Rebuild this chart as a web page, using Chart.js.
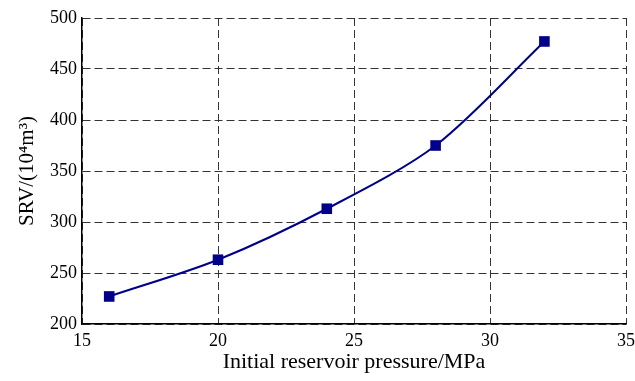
<!DOCTYPE html>
<html>
<head>
<meta charset="utf-8">
<script src="https://cdn.jsdelivr.net/npm/chart.js@4/dist/chart.umd.min.js"></script>
<style>
  html, body { margin: 0; padding: 0; background: #fff; }
  #wrap { width: 635px; height: 381px; }
</style>
</head>
<body>
<div id="wrap"><canvas id="c" width="635" height="381"></canvas></div>
<script>
// Initial reservoir pressure (MPa) and stimulated reservoir volume (10^4 m^3)
const pressure = [16, 20, 24, 28, 32];
const srv = [227, 263, 313, 375, 477];
const xTicks = [15, 20, 25, 30, 35];
const yTicks = [200, 250, 300, 350, 400, 450, 500];

const serif = "'Liberation Serif', 'Times New Roman', serif";
const gridColor = '#333333';

new Chart(document.getElementById('c'), {
  type: 'scatter',
  data: {
    datasets: [{
      data: pressure.map((p, i) => ({ x: p, y: srv[i] })),
      showLine: true,
      borderColor: '#00008b',
      backgroundColor: '#00008b',
      borderWidth: 2,
      tension: 0.3,
      pointStyle: 'rect',
      pointRadius: 7.5,
      pointHoverRadius: 7.5,
      pointBorderWidth: 0
    }]
  },
  options: {
    responsive: false,
    animation: false,
    layout: { padding: { top: 18, right: 9, left: 0, bottom: 0 } },
    plugins: { legend: { display: false }, tooltip: { enabled: false } },
    scales: {
      x: {
        type: 'linear',
        min: 15, max: 35,
        afterBuildTicks: s => { s.ticks = xTicks.map(v => ({ value: v })); },
        afterFit: s => { s.height = 57; s.paddingRight = 0; s.paddingLeft = 0; },
        grid: { color: gridColor, lineWidth: 1, drawTicks: false },
        border: { display: true, color: '#000', width: 1.5, dash: [8, 4] },
        ticks: { color: '#000', font: { family: serif, size: 18 }, padding: 6, maxRotation: 0 },
        title: { display: true, text: 'Initial reservoir pressure/MPa', color: '#000', font: { family: serif, size: 22 }, padding: { top: 0, bottom: 6 } }
      },
      y: {
        type: 'linear',
        min: 200, max: 500,
        afterBuildTicks: s => { s.ticks = yTicks.map(v => ({ value: v })); },
        afterFit: s => { s.width = 82; s.paddingTop = 0; s.paddingBottom = 0; },
        grid: { color: gridColor, lineWidth: 1, drawTicks: false },
        border: { display: true, color: '#000', width: 1.5, dash: [8, 4] },
        ticks: { color: '#000', font: { family: serif, size: 18 }, padding: 5 },
        title: { display: true, text: 'SRV/(10⁴m³)', color: '#000', font: { family: serif, size: 21 }, padding: { top: 15, bottom: 0 } }
      }
    }
  }
});
</script>
</body>
</html>
